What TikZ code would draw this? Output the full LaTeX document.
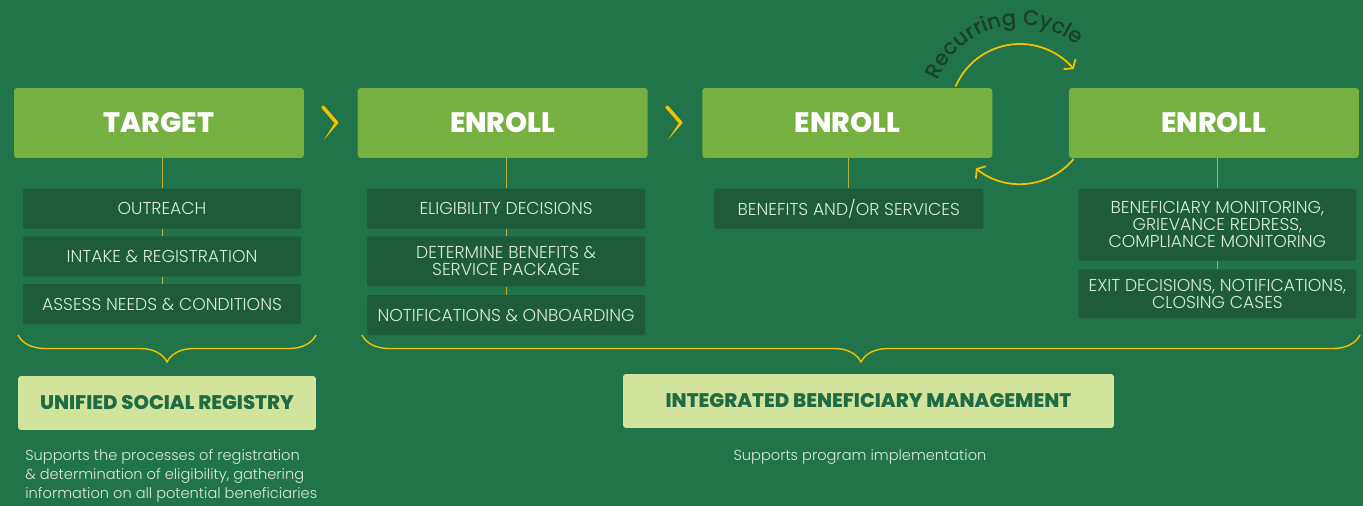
\documentclass[tikz,border=0pt]{standalone}
\usepackage{fontspec}
\setmainfont{Poppins}
\newfontfamily\lightfont{Poppins}[UprightFont={* Light}]
\newfontfamily\medfont{Poppins}[UprightFont={* Medium}]
\newfontfamily\heavyfont{Poppins}[UprightFont={* ExtraBold}]
\usetikzlibrary{positioning,calc,arrows.meta,decorations.pathreplacing,decorations.text}

\definecolor{bgGreen}{HTML}{21734A}
\definecolor{headGreen}{HTML}{76B041}
\definecolor{taskGreen}{HTML}{1D5B3A}
\definecolor{tagGreen}{HTML}{D2E49C}
\definecolor{darkText}{HTML}{1F6B44}
\definecolor{paleText}{HTML}{DDEBDD}
\definecolor{yel}{HTML}{F3C300}
\definecolor{stemYellow}{HTML}{B8B13A}
\definecolor{cycText}{HTML}{173F2A}

\begin{document}
\begin{tikzpicture}[x=0.02cm, y=-0.02cm,
head/.style={fill=headGreen, rounded corners=0.06cm, minimum width=5.8cm, minimum height=1.4cm, inner sep=0pt, text=white, font=\fontsize{16}{16}\selectfont\heavyfont},
task/.style={fill=taskGreen, rounded corners=0.04cm, minimum width=5.56cm, minimum height=0.8cm, inner sep=0pt, align=center, text=paleText, font=\fontsize{9.8}{9.6}\selectfont\lightfont, node distance=0.14cm},
tag/.style={fill=tagGreen, rounded corners=0.06cm, minimum height=1.08cm, inner sep=0pt, text=darkText, font=\fontsize{11.2}{11.2}\selectfont\heavyfont},
note/.style={text=paleText, font=\fontsize{8.3}{10.8}\selectfont\lightfont, inner sep=0pt},
stem/.style={draw=stemYellow, line width=0.5pt},
brc/.style={draw=yel, line width=0.8pt, decorate, decoration={brace, mirror, amplitude=0.54cm, aspect=0.5}},
chev/.style={draw=yel, line width=2pt, line cap=round},
cyc/.style={draw=yel, line width=1pt, -{Straight Barb[length=3pt, width=9pt]}}]
\fill[bgGreen] (0,0) rectangle (1363,506);
\useasboundingbox (0,0) rectangle (1363,506);

% the four phases
\node[head] (Tgt) at (159,123) {TARGET};
\node[head, right=1.06cm of Tgt] (EnA) {ENROLL};
\node[head, right=1.08cm of EnA] (EnB) {ENROLL};
\node[head, right=1.52cm of EnB] (EnC) {ENROLL};

% steps under each phase
\node[task, below=0.6cm of Tgt, xshift=0.06cm] (Out) {OUTREACH};
\node[task, below=of Out] (Reg) {INTAKE \& REGISTRATION};
\node[task, below=of Reg] (Ass) {ASSESS NEEDS \& CONDITIONS};

\node[task, below=0.6cm of EnA, xshift=0.07cm] (Elg) {ELIGIBILITY DECISIONS};
\node[task, below=of Elg, minimum height=1cm] (Det) {DETERMINE BENEFITS \&\\SERVICE PACKAGE};
\node[task, below=0.16cm of Det] (Ntf) {NOTIFICATIONS \& ONBOARDING};

\node[task, below=0.6cm of EnB, xshift=0.03cm, minimum width=5.38cm] (Ben) {BENEFITS AND/OR SERVICES};

\node[task, below=0.6cm of EnC, xshift=0.07cm, minimum height=1.44cm] (Mon) {BENEFICIARY MONITORING,\\GRIEVANCE REDRESS,\\COMPLIANCE MONITORING};
\node[task, below=0.16cm of Mon, minimum height=0.98cm] (Ext) {EXIT DECISIONS, NOTIFICATIONS,\\CLOSING CASES};

\foreach \h/\a in {Tgt/Out, EnA/Elg, EnB/Ben, EnC/Mon}
  \draw[stem] (\a.north |- \h.south) -- (\a.north);
\foreach \a/\b in {Out/Reg, Reg/Ass, Elg/Det, Det/Ntf, Mon/Ext}
  \draw[stem] (\a.south) -- (\b.north);

% chevrons between phases
\foreach \a/\b in {Tgt/EnA, EnA/EnB} {
  \coordinate (M) at ($(\a.east)!.5!(\b.west)$);
  \draw[chev] ($(M)+(-8,-16)$) -- ($(M)+(6,0)$);
  \fill[yel] ($(M)+(7.5,0)$) -- ($(M)+(4.5,-1)$) -- ($(M)+(-7,17)$) -- cycle;
}

% recurring cycle
\coordinate (Cc) at (1020,114);
\draw[cyc] (Cc) ++(-157:70) arc[start angle=-157, end angle=-40, radius=70];
\draw[cyc] (Cc) ++(40:70) arc[start angle=40, end angle=129, radius=70];
\path[decorate, decoration={text along path, text align=center,
  text={|\fontsize{12}{12}\selectfont\medfont\color{cycText}|Recurring Cycle}}]
  (Cc) ++(-160:89) arc[start angle=-160, end angle=-48, radius=89];

% braces and systems
\draw[brc] (18,335) -- (316,335);
\draw[brc] (362,335) -- (1360,335);

\node[tag, minimum width=5.96cm] (Usr) at (167,403) {UNIFIED SOCIAL REGISTRY};
\node[tag, minimum width=9.82cm] (Ibm) at (868.5,401) {INTEGRATED BENEFICIARY MANAGEMENT};

\node[note, anchor=north west, align=left] (UsrNote) at (25,449) {Supports the processes of registration\\\& determination of eligibility, gathering\\information on all potential beneficiaries};
\node[note] (IbmNote) at (860,457) {Supports program implementation};
\end{tikzpicture}
\end{document}
